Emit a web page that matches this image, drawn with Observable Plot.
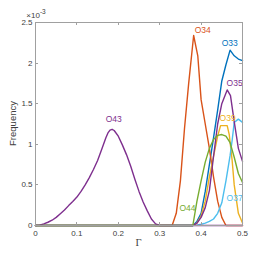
<!DOCTYPE html>
<html><head><meta charset="utf-8">
<script src="https://cdn.jsdelivr.net/npm/d3@7"></script>
<script src="https://cdn.jsdelivr.net/npm/@observablehq/plot@0.6"></script>
<style>body{margin:0;background:#fff}</style>
</head><body><div id="c"></div>
<script>
// Axis ticks (y in units of 1e-3)
const xTicks = [0, 0.1, 0.2, 0.3, 0.4, 0.5];
const yTicks = [0, 0.5, 1, 1.5, 2, 2.5];

// Series names in drawing order, with colours
const seriesNames  = ["O33", "O34", "O39", "O37", "O35", "O43", "O44"];
const seriesColors = ["#0072BD", "#D95319", "#EDB120", "#4DBEEE", "#7E2F8E", "#7E2F8E", "#77AC30"];

// Gamma / frequency (x1e-3) per series
const g_O33 = [0, 0.38, 0.39, 0.40, 0.41, 0.42, 0.43, 0.44, 0.45, 0.46, 0.47, 0.48, 0.49, 0.50];
const f_O33 = [0, 0,    0.05, 0.15, 0.42, 0.75, 1.08, 1.42, 1.78, 1.98, 2.16, 2.09, 2.05, 2.03];

const g_O34 = [0, 0.33, 0.34, 0.35, 0.36, 0.37, 0.382, 0.392, 0.40, 0.41, 0.42, 0.43, 0.44, 0.45, 0.46, 0.50];
const f_O34 = [0, 0,    0.15, 0.55, 1.2,  1.75, 2.34,  2.09,  1.55, 1.25, 0.95, 0.6,  0.3,  0.1,  0,    0];

const g_O39 = [0, 0.38, 0.39, 0.40, 0.41, 0.42, 0.43, 0.44, 0.447, 0.463, 0.468, 0.475, 0.48, 0.49, 0.50];
const f_O39 = [0, 0,    0.03, 0.12, 0.3,  0.6,  0.85, 1.1,  1.23,  1.23,  1.12,  0.8,   0.5,  0.15, 0.03];

const g_O37 = [0, 0.38, 0.39,  0.40,  0.41, 0.42, 0.43, 0.44, 0.45, 0.46, 0.47, 0.475, 0.48, 0.49, 0.50];
const f_O37 = [0, 0,    0.005, 0.015, 0.03, 0.05, 0.08, 0.15, 0.28, 0.55, 0.86, 1.05,  1.27, 1.31, 1.27];

const g_O35 = [0, 0.38, 0.39, 0.40, 0.41, 0.42, 0.43, 0.44, 0.45, 0.463, 0.471, 0.48, 0.49, 0.50];
const f_O35 = [0, 0,    0.03, 0.1,  0.22, 0.43, 0.85, 1.25, 1.5,  1.67,  1.6,   1.28, 0.95, 0.79];

const g_O43 = [0, 0.01, 0.02, 0.03, 0.04, 0.05, 0.06, 0.07, 0.08, 0.09, 0.10, 0.11, 0.12, 0.13, 0.14, 0.15, 0.16, 0.17, 0.175, 0.18, 0.185, 0.19, 0.20, 0.21, 0.22, 0.23, 0.24, 0.25, 0.26, 0.27, 0.28, 0.29, 0.30, 0.50];
const f_O43 = [0, 0.005, 0.02, 0.04, 0.065, 0.1, 0.145, 0.19, 0.245, 0.295, 0.35, 0.42, 0.5, 0.59, 0.69, 0.8, 0.94, 1.08, 1.14, 1.175, 1.185, 1.17, 1.1, 0.99, 0.87, 0.73, 0.57, 0.42, 0.29, 0.18, 0.08, 0.02, 0, 0];

const g_O44 = [0, 0.38, 0.39, 0.40, 0.41, 0.42, 0.43, 0.44, 0.45, 0.46, 0.47, 0.48, 0.49, 0.50];
const f_O44 = [0, 0,    0.3,  0.55, 0.78, 0.95, 1.06, 1.11, 1.12, 1.1,  1.02, 0.84, 0.64, 0.53];

// Curve labels
const labelNames  = ["O34", "O33", "O35", "O39", "O43", "O44", "O37"];
const labelColors = ["#D95319", "#0072BD", "#7E2F8E", "#EDB120", "#7E2F8E", "#77AC30", "#4DBEEE"];
const labelX = [0.404, 0.469, 0.481, 0.464, 0.189, 0.367, 0.481];
const labelY = [2.41, 2.24, 1.75, 1.32, 1.31, 0.21, 0.34];

const G = {O33: g_O33, O34: g_O34, O39: g_O39, O37: g_O37, O35: g_O35, O43: g_O43, O44: g_O44};
const F = {O33: f_O33, O34: f_O34, O39: f_O39, O37: f_O37, O35: f_O35, O43: f_O43, O44: f_O44};

const font = "'Liberation Sans', Arial, sans-serif";
const lineMarks = seriesNames.map((s, i) => {
  const rows = G[s].map((x, k) => ({x, y: F[s][k]}));
  return Plot.line(rows, {x: "x", y: "y", stroke: seriesColors[i], strokeWidth: 1.4, strokeLinejoin: "round"});
});
const labels = labelNames.map((name, i) => ({name, x: labelX[i], y: labelY[i], c: labelColors[i]}));

const chart = Plot.plot({
  width: 258, height: 258,
  marginLeft: 35, marginRight: 16, marginTop: 22, marginBottom: 33,
  style: {fontFamily: font, fontSize: "8px", color: "#404040", background: "#fff"},
  x: {domain: [0, 0.5], ticks: xTicks, tickSize: 0, tickPadding: 5, tickFormat: d => String(d), label: null},
  y: {domain: [0, 2.5], ticks: yTicks, tickSize: 0, tickPadding: 3, tickFormat: d => String(d), label: null},
  marks: [
    ...lineMarks,
    Plot.text(labels, {x: "x", y: "y", text: "name", fill: "c", fontSize: 8.5}),
    Plot.frame({stroke: "#a0a0a0", strokeWidth: 1})
  ]
});

const svg = d3.select(chart);
const sx = chart.scale("x"), sy = chart.scale("y");
const [yb, yt] = sy.range; const [xl, xr] = sx.range;
const tg = svg.append("g").attr("stroke", "#a0a0a0").attr("stroke-width", 1);
xTicks.forEach(t => {
  const px = Math.round(sx.apply(t)) + 0.5;
  tg.append("line").attr("x1", px).attr("x2", px).attr("y1", yb).attr("y2", yb - 3);
  tg.append("line").attr("x1", px).attr("x2", px).attr("y1", yt).attr("y2", yt + 3);
});
yTicks.forEach(t => {
  const py = Math.round(sy.apply(t)) + 0.5;
  tg.append("line").attr("y1", py).attr("y2", py).attr("x1", xl).attr("x2", xl + 3);
  tg.append("line").attr("y1", py).attr("y2", py).attr("x1", xr).attr("x2", xr - 3);
});
// exponent
const ex = svg.append("text").attr("x", xl + 1).attr("y", yt - 4.5)
  .attr("font-family", font).attr("font-size", 8).attr("fill", "#404040");
ex.append("tspan").text("×10");
ex.append("tspan").attr("dy", -3.5).attr("font-size", 6.5).text("-3");
// axis labels
svg.append("text").attr("transform", `translate(13,${(yb + yt) / 2}) rotate(-90)`)
  .attr("text-anchor", "middle").attr("dy", "0.35em")
  .attr("font-family", font).attr("font-size", 9.5).attr("fill", "#404040").text("Frequency");
svg.append("text").attr("x", (xl + xr) / 2).attr("y", yb + 21)
  .attr("text-anchor", "middle")
  .attr("font-family", "'Liberation Serif', 'DejaVu Serif', serif").attr("font-size", 10.5).attr("fill", "#404040").text("Γ");

document.getElementById("c").appendChild(chart);
</script>
</body></html>
